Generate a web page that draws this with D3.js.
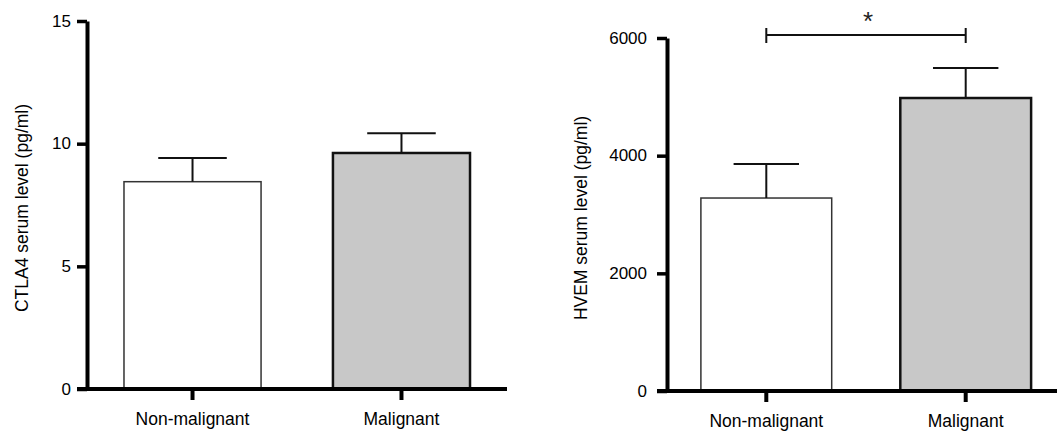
<!DOCTYPE html>
<html>
<head>
<meta charset="utf-8">
<script src="https://cdn.jsdelivr.net/npm/d3@7"></script>
<style>
  body { margin: 0; background: #fff; }
  svg { font-family: "Liberation Sans", Arial, sans-serif; }
</style>
</head>
<body>
<svg id="chart" width="1057" height="431"></svg>
<script>
const groups = ["Non-malignant", "Malignant"];

// CTLA4 panel
const ctlaMeans = [8.45, 9.62];
const ctlaErr = [0.97, 0.8];
const ctlaTicks = [0, 5, 10, 15];

// HVEM panel
const hvemMeans = [3280, 4980];
const hvemErr = [580, 510];
const hvemTicks = [0, 2000, 4000, 6000];

const fills = ["#ffffff", "#c8c8c8"];
const strokes = ["#333", "#111"];
const strokeW = [1.5, 2.5];

const svg = d3.select("#chart");

function panel(opts) {
    const x = d3.scaleBand()
        .domain(groups)
        .range(opts.xRange)
        .paddingInner(0.344)
        .paddingOuter(opts.padOuter);

    const y = d3.scaleLinear()
        .domain(opts.domain)
        .range(opts.yRange);

    const g = svg.append("g");

    // bars
    g.selectAll("rect.bar")
        .data(groups)
        .enter().append("rect")
        .attr("class", "bar")
        .attr("x", d => x(d))
        .attr("width", x.bandwidth())
        .attr("y", (d, i) => y(opts.means[i]))
        .attr("height", (d, i) => y(0) - y(opts.means[i]))
        .attr("fill", (d, i) => fills[i])
        .attr("stroke", (d, i) => strokes[i])
        .attr("stroke-width", (d, i) => strokeW[i]);

    // error bars (upper only)
    const cap = x.bandwidth() / 4;
    groups.forEach(function (d, i) {
        const cx = x(d) + x.bandwidth() / 2;
        const top = y(opts.means[i] + opts.errs[i]);
        g.append("line")
            .attr("x1", cx).attr("x2", cx)
            .attr("y1", y(opts.means[i])).attr("y2", top)
            .attr("stroke", "#111").attr("stroke-width", 2);
        g.append("line")
            .attr("x1", cx - cap).attr("x2", cx + cap)
            .attr("y1", top).attr("y2", top)
            .attr("stroke", "#111").attr("stroke-width", 2);
    });

    // y axis
    const yAxis = g.append("g")
        .attr("transform", "translate(" + opts.xRange[0] + ",0)")
        .call(d3.axisLeft(y).tickValues(opts.ticks).tickFormat(d3.format("d"))
            .tickSize(10).tickSizeOuter(0).tickPadding(opts.tickPad));
    yAxis.attr("font-family", null).attr("font-size", null);
    yAxis.select(".domain").attr("stroke", "#000").attr("stroke-width", 4);
    yAxis.selectAll(".tick line").attr("stroke", "#000").attr("stroke-width", 3.5);
    yAxis.selectAll(".tick text")
        .attr("fill", "#000")
        .attr("dy", "0.3em")
        .style("font-size", "17px");

    // x axis
    const xAxis = g.append("g")
        .attr("transform", "translate(0," + y(0) + ")")
        .call(d3.axisBottom(x).tickSize(11).tickSizeOuter(0).tickPadding(13));
    xAxis.attr("font-family", null).attr("font-size", null);
    xAxis.select(".domain").remove();
    xAxis.append("line")
        .attr("x1", opts.xRange[0] - 10).attr("x2", opts.axisEnd)
        .attr("stroke", "#000").attr("stroke-width", 4);
    xAxis.selectAll(".tick line").attr("stroke", "#000").attr("stroke-width", 4);
    xAxis.selectAll(".tick text")
        .attr("fill", "#000")
        .style("font-size", "17.5px");

    // y label
    g.append("text")
        .attr("transform", "translate(" + opts.labelX + "," + opts.labelY + ") rotate(-90)")
        .attr("text-anchor", "middle")
        .style("font-size", "17.5px")
        .text(opts.label);

    return { x: x, y: y, g: g };
}

panel({
    xRange: [87, 507], padOuter: 0.177, axisEnd: 507, tickPad: 6,
    domain: [0, 15], yRange: [389, 21],
    means: ctlaMeans, errs: ctlaErr, ticks: ctlaTicks,
    label: "CTLA4 serum level (pg/ml)", labelX: 28, labelY: 208
});

const right = panel({
    xRange: [667, 1065], padOuter: 0.17, axisEnd: 1057, tickPad: 10,
    domain: [0, 6000], yRange: [391, 38],
    means: hvemMeans, errs: hvemErr, ticks: hvemTicks,
    label: "HVEM serum level (pg/ml)", labelX: 587, labelY: 218
});

// significance bracket
const bx1 = right.x(groups[0]) + right.x.bandwidth() / 2;
const bx2 = right.x(groups[1]) + right.x.bandwidth() / 2;
const by = 35;
right.g.append("path")
    .attr("d", "M" + bx1 + "," + (by - 7) + "V" + (by + 8) + "M" + bx1 + "," + by + "H" + bx2 + "M" + bx2 + "," + (by - 7) + "V" + (by + 8))
    .attr("fill", "none").attr("stroke", "#111").attr("stroke-width", 2);
right.g.append("text")
    .attr("x", (bx1 + bx2) / 2 + 2)
    .attr("y", 30)
    .attr("text-anchor", "middle")
    .attr("fill", "#222")
    .style("font-size", "26px")
    .text("*");
</script>
</body>
</html>
